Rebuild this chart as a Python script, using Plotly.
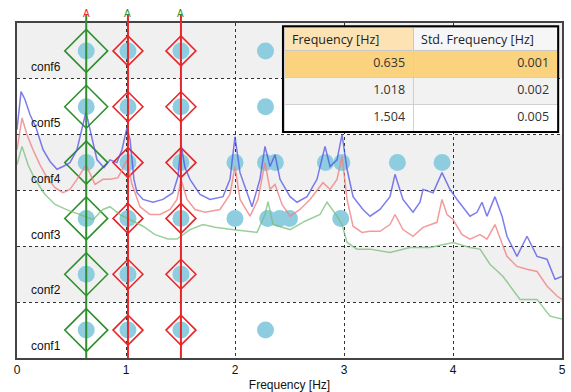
import plotly.graph_objects as go

# ---------------- data ----------------
configs = ["conf1", "conf2", "conf3", "conf4", "conf5", "conf6"]

poles = {
    "conf1": [0.635, 1.018, 1.504, 2.28],
    "conf2": [0.635, 1.018, 1.504],
    "conf3": [0.635, 1.018, 1.504, 2.00, 2.30, 2.41, 2.50, 2.97],
    "conf4": [0.635, 1.018, 1.504, 2.00, 2.28, 2.37, 2.83, 2.98, 3.49, 3.90],
    "conf5": [0.635, 1.018, 1.504, 2.28],
    "conf6": [0.635, 1.018, 1.504, 2.28],
}

mode_freq = [0.635, 1.018, 1.504]
mode_std = [0.001, 0.002, 0.005]
mode_label = ["A", "A", "A"]

x_ticks = [0, 1, 2, 3, 4, 5]

blue_f = [0.000, 0.037, 0.073, 0.119, 0.174, 0.239, 0.303, 0.367, 0.422, 0.486, 0.550, 0.606, 0.633, 0.670,
          0.734, 0.798, 0.853, 0.917, 0.963, 1.009, 1.037, 1.073, 1.101, 1.156, 1.248, 1.339, 1.431, 1.477,
          1.505, 1.541, 1.587, 1.679, 1.771, 1.890, 1.954, 2.000, 2.046, 2.156, 2.229, 2.275, 2.321, 2.367,
          2.413, 2.505, 2.569, 2.661, 2.752, 2.826, 2.872, 2.936, 2.982, 3.028, 3.083, 3.174, 3.239, 3.330,
          3.422, 3.468, 3.541, 3.633, 3.697, 3.725, 3.817, 3.899, 3.972, 4.037, 4.156, 4.220, 4.266, 4.312,
          4.385, 4.450, 4.495, 4.587, 4.679, 4.771, 4.862, 4.936, 5.000]
blue_a = [4.09, 4.77, 4.63, 4.36, 4.13, 3.73, 3.52, 3.38, 3.43, 3.50, 3.73, 4.18, 4.41, 4.09,
          3.55, 3.41, 3.55, 3.50, 3.73, 4.13, 3.91, 3.20, 2.96, 2.84, 2.79, 2.84, 2.96, 3.25,
          3.82, 3.41, 3.20, 2.93, 2.84, 2.89, 3.20, 3.96, 3.32, 2.71, 3.20, 3.79, 3.43, 3.64,
          3.20, 2.89, 2.79, 2.89, 3.20, 3.79, 3.43, 3.55, 4.00, 3.38, 2.89, 2.66, 2.54, 2.66,
          2.89, 3.29, 2.84, 2.61, 2.79, 3.02, 2.96, 3.32, 3.02, 2.84, 2.54, 2.61, 2.79, 2.54,
          2.89, 2.54, 2.18, 1.82, 2.18, 1.82, 1.77, 1.41, 1.46]

red_f = [0.000, 0.046, 0.092, 0.147, 0.211, 0.275, 0.349, 0.422, 0.486, 0.550, 0.633, 0.716, 0.789, 0.853,
         0.927, 1.009, 1.055, 1.128, 1.220, 1.312, 1.404, 1.468, 1.505, 1.560, 1.633, 1.725, 1.862, 1.954,
         2.000, 2.046, 2.138, 2.211, 2.275, 2.321, 2.367, 2.431, 2.505, 2.596, 2.688, 2.807, 2.872, 2.936,
         2.982, 3.028, 3.083, 3.165, 3.239, 3.330, 3.422, 3.468, 3.541, 3.633, 3.725, 3.853, 3.899, 3.945,
         4.000, 4.083, 4.156, 4.248, 4.312, 4.385, 4.495, 4.587, 4.679, 4.771, 4.862, 4.954, 5.000]
red_a = [3.73, 4.30, 4.00, 3.73, 3.46, 3.23, 3.05, 2.96, 3.02, 3.20, 3.46, 3.11, 3.20, 3.20,
         3.23, 3.55, 3.11, 2.71, 2.57, 2.57, 2.66, 2.84, 3.20, 2.84, 2.66, 2.61, 2.66, 2.93,
         3.43, 2.84, 2.54, 2.84, 3.50, 3.02, 3.11, 2.75, 2.54, 2.66, 2.84, 3.14, 3.02, 3.20,
         3.61, 2.84, 2.36, 2.25, 2.27, 2.27, 2.39, 2.57, 2.30, 2.18, 2.34, 2.43, 2.84, 2.57,
         2.48, 2.21, 2.13, 2.21, 2.13, 2.39, 1.82, 1.64, 1.59, 1.55, 1.29, 1.11, 1.05]

green_f = [0.000, 0.046, 0.101, 0.165, 0.257, 0.349, 0.394, 0.486, 0.578, 0.697, 0.789, 0.853, 0.945, 1.037,
           1.156, 1.266, 1.385, 1.468, 1.587, 1.706, 1.817, 1.972, 2.083, 2.202, 2.275, 2.303, 2.349, 2.505,
           2.642, 2.780, 2.844, 2.936, 2.982, 3.028, 3.119, 3.239, 3.422, 3.606, 3.789, 4.000, 4.156, 4.248,
           4.339, 4.459, 4.615, 4.771, 4.890, 5.000]
green_a = [3.46, 3.79, 3.46, 3.20, 2.93, 2.75, 2.71, 2.63, 2.57, 2.48, 2.66, 2.71, 2.57, 2.48,
           2.36, 2.21, 2.13, 2.13, 2.30, 2.39, 2.34, 2.30, 2.27, 2.25, 2.57, 2.80, 2.39, 2.30,
           2.45, 2.57, 2.79, 2.54, 2.39, 2.07, 1.95, 1.95, 1.89, 1.98, 1.98, 2.07, 1.98, 1.95,
           1.68, 1.46, 1.05, 1.05, 0.75, 0.70]

# ---------------- styles ----------------
GREEN = "#2f8f2f"
RED = "#e8262a"
DOT = "#8ecde0"
FONT = "Liberation Sans"

fig = go.Figure()

# spectra (background)
for f, a, c in [(green_f, green_a, "rgba(120,190,120,0.75)"),
                (red_f, red_a, "rgba(240,130,130,0.8)"),
                (blue_f, blue_a, "rgba(80,80,230,0.75)")]:
    fig.add_trace(go.Scatter(x=f, y=a, mode="lines", line=dict(color=c, width=1.5),
                             yaxis="y2", hoverinfo="skip", showlegend=False))

# stabilisation dots
for i, cfg in enumerate(configs):
    xs = poles[cfg]
    fig.add_trace(go.Scatter(x=xs, y=[i + 0.5] * len(xs), mode="markers",
                             marker=dict(color=DOT, size=17, line=dict(width=0)),
                             showlegend=False, name=cfg))

# selected modes: diamonds
for k, fm in enumerate(mode_freq):
    col = GREEN if k == 0 else RED
    sz = 33 if k == 0 else 23
    fig.add_trace(go.Scatter(x=[fm] * len(configs), y=[i + 0.5 for i in range(len(configs))],
                             mode="markers",
                             marker=dict(symbol="diamond-open", size=sz, color=col, line=dict(color=col, width=1.6)),
                             showlegend=False))

# background bands
shapes = []
for i in range(len(configs)):
    if i % 2 == 1:
        shapes.append(dict(type="rect", xref="paper", yref="y", x0=0, x1=1, y0=i, y1=i + 1,
                           fillcolor="#f0f0f0", line=dict(width=0), layer="below"))
# vertical mode lines
for k, fm in enumerate(mode_freq):
    col = GREEN if k == 0 else RED
    shapes.append(dict(type="line", xref="x", yref="paper", x0=fm, x1=fm, y0=0, y1=1.026,
                       line=dict(color=col, width=2), layer="above"))
fig.update_layout(shapes=shapes)

annotations = []
for i, cfg in enumerate(configs):
    annotations.append(dict(x=0.11, y=i + 0.21, xref="x", yref="y", text=cfg, showarrow=False,
                            xanchor="left", yanchor="middle", font=dict(family=FONT, size=12, color="#111")))
for k, fm in enumerate(mode_freq):
    col = RED if k == 0 else GREEN
    annotations.append(dict(x=fm, y=1.027, xref="x", yref="paper", text=mode_label[k], showarrow=False,
                            xanchor="center", yanchor="middle", font=dict(family=FONT, size=10, color=col)))
fig.update_layout(annotations=annotations)

# table
fig.add_trace(go.Table(
    domain=dict(x=[0.49, 0.991], y=[0.67, 0.988]),
    columnwidth=[129, 144],
    header=dict(values=["Frequency [Hz]", "Std. Frequency [Hz]"],
                fill=dict(color=["#fde3b3", "#f6f6f6"]),
                line=dict(color="#c8c8c8", width=1),
                align="left", height=23,
                font=dict(family="Open Sans", size=12.5, color="#222")),
    cells=dict(values=[[f"{v:.3f}" for v in mode_freq], [f"{v:.3f}" for v in mode_std]],
               fill=dict(color=[["#fbd27e", "#f2f2f2", "#ffffff"], ["#fbd27e", "#f2f2f2", "#ffffff"]]),
               line=dict(color="#d0d0d0", width=1),
               align="right", height=27,
               font=dict(family="Open Sans", size=12.5, color="#333")),
))
fig.add_shape(type="rect", xref="paper", yref="paper", x0=0.488, x1=0.993, y0=0.675, y1=0.99,
              line=dict(color="black", width=2), fillcolor="rgba(0,0,0,0)", layer="above")

fig.update_layout(
    width=571, height=392,
    margin=dict(l=17, r=9, t=23, b=34),
    paper_bgcolor="white", plot_bgcolor="white",
    font=dict(family=FONT, size=12, color="#111"),
    xaxis=dict(range=[0, 5], tickvals=x_ticks, ticktext=[str(t) for t in x_ticks],
               showgrid=True, gridcolor="#333", griddash="dot", gridwidth=1,
               showline=True, linecolor="#444", linewidth=2, mirror=True,
               ticks="", ticklen=0, zeroline=False, automargin=False,
               title=dict(text="Frequency [Hz]", standoff=6, font=dict(size=12)),
               tickfont=dict(size=12)),
    yaxis=dict(range=[0, 6], tickvals=[0, 1, 2, 3, 4, 5, 6], showticklabels=False,
               showgrid=True, gridcolor="#333", griddash="dot", gridwidth=1,
               showline=True, linecolor="#444", linewidth=2, mirror=True,
               ticks="", zeroline=False, automargin=False),
    yaxis2=dict(range=[0, 6], overlaying="y", visible=False),
)

fig.write_html("out.html", config={"displayModeBar": False},
               post_script="document.body.style.margin='0';")
